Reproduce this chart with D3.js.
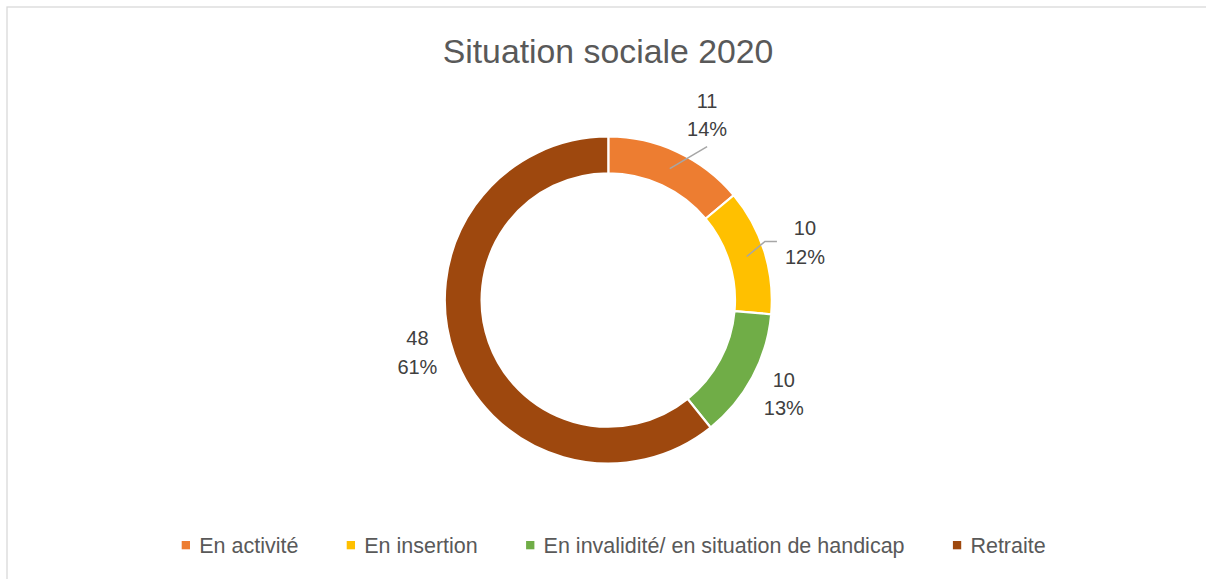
<!DOCTYPE html>
<html>
<head>
<meta charset="utf-8">
<script src="https://cdn.jsdelivr.net/npm/d3@7"></script>
<style>
  body { margin: 0; background: #fff; }
  svg { display: block; font-family: "Liberation Sans", Arial, sans-serif; }
</style>
</head>
<body>
<svg id="canvas"></svg>
<script>
// data
let title = 'Situation sociale 2020';
let categories = ['En activité', 'En insertion', 'En invalidité/ en situation de handicap', 'Retraite'];
let values = [11.0, 9.85, 10.15, 48.0];
let colors = ['#ED7D31', '#FFC000', '#70AD47', '#9E480E'];

// label placement (radius from centre, angle nudge in degrees)
let labelRadius = [210, 205, 199, 198];
let labelShift = [3, 1, 0, 4];

const width = 1206;
const height = 579;
const cx = 608.3;
const cy = 300;
const outerR = 163.5;
const innerR = 126.7;

let canvas = d3.select('#canvas')
  .attr('width', width)
  .attr('height', height);

// chart border (only left and top visible)
canvas.append('rect')
  .attr('x', 7)
  .attr('y', 7)
  .attr('width', width + 20)
  .attr('height', height + 20)
  .attr('fill', 'none')
  .attr('stroke', '#d9d9d9')
  .attr('stroke-width', 1.3);

canvas.append('text')
  .attr('x', 608)
  .attr('y', 63)
  .attr('text-anchor', 'middle')
  .attr('font-size', 33.8)
  .attr('fill', '#595959')
  .text(title);

let rows = categories.map((c, i) => ({ name: c, value: values[i], color: colors[i], i: i }));
let total = d3.sum(values);

let pie = d3.pie().sort(null).value(d => d.value);
let arc = d3.arc().innerRadius(innerR).outerRadius(outerR);
let slices = pie(rows);

let g = canvas.append('g').attr('transform', `translate(${cx},${cy})`);

g.selectAll('path')
  .data(slices)
  .enter()
  .append('path')
  .attr('d', arc)
  .attr('fill', d => d.data.color)
  .attr('stroke', '#fff')
  .attr('stroke-width', 2.2);

// label centre for each slice
let labelPos = d => {
  let a = (d.startAngle + d.endAngle) / 2 + labelShift[d.data.i] * Math.PI / 180;
  let r = labelRadius[d.data.i];
  return [r * Math.sin(a), -r * Math.cos(a)];
};

// leader lines for the two moved labels
slices.forEach(d => {
  let c = arc.centroid(d);
  let [lx, ly] = labelPos(d);
  if (d.data.i === 0) {
    g.append('polyline')
      .attr('points', [c, [lx, ly + 32]].map(p => p.join(',')).join(' '))
      .attr('fill', 'none')
      .attr('stroke', '#a6a6a6')
      .attr('stroke-width', 1.5);
  } else if (d.data.i === 1) {
    g.append('polyline')
      .attr('points', [c, [lx - 40, ly - 0.5], [lx - 28, ly - 0.5]].map(p => p.join(',')).join(' '))
      .attr('fill', 'none')
      .attr('stroke', '#a6a6a6')
      .attr('stroke-width', 1.5);
  }
});

let labels = g.selectAll('.lbl')
  .data(slices)
  .enter()
  .append('text')
  .attr('class', 'lbl')
  .attr('text-anchor', 'middle')
  .attr('font-size', 20)
  .attr('fill', '#404040');

labels.append('tspan')
  .attr('x', d => labelPos(d)[0])
  .attr('y', d => labelPos(d)[1] - 7.2)
  .text(d => Math.round(d.data.value));

labels.append('tspan')
  .attr('x', d => labelPos(d)[0])
  .attr('y', d => labelPos(d)[1] + 21.5)
  .text(d => Math.round(d.data.value / total * 100) + '%');

// legend, spread between the reference's first marker and last word
let legend = canvas.append('g');
let items = legend.selectAll('g')
  .data(rows)
  .enter()
  .append('g');

items.append('rect')
  .attr('width', 8.3)
  .attr('height', 8.3)
  .attr('y', 541)
  .attr('fill', d => d.color);

items.append('text')
  .attr('x', 17.5)
  .attr('y', 553.3)
  .attr('font-size', 21.5)
  .attr('fill', '#595959')
  .text(d => d.name);

let itemWidths = [];
items.each(function() {
  itemWidths.push(17.5 + d3.select(this).select('text').node().getComputedTextLength());
});
const legendLeft = 181.7;
const legendRight = 1045.7;
let spacing = (legendRight - legendLeft - d3.sum(itemWidths)) / (itemWidths.length - 1);
let x = legendLeft;
items.each(function(d, i) {
  d3.select(this).attr('transform', `translate(${x},0)`);
  x += itemWidths[i] + spacing;
});
</script>
</body>
</html>
